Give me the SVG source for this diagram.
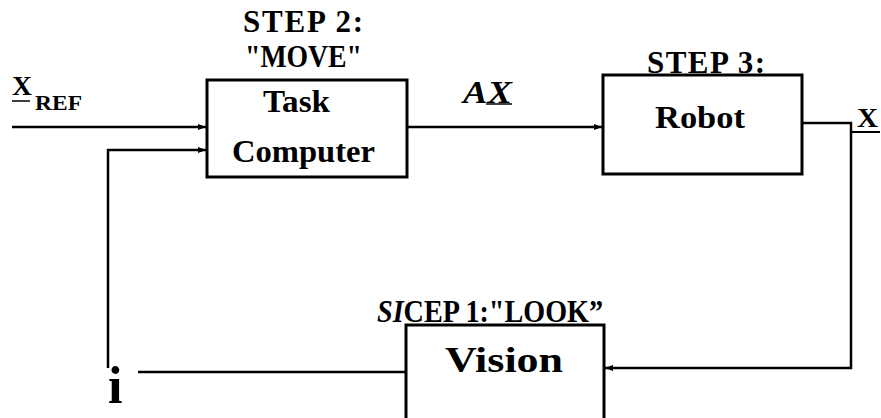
<svg xmlns="http://www.w3.org/2000/svg" width="881" height="418" viewBox="0 0 881 418">
<style>
.box{fill:#fff;stroke:#000;stroke-width:3}
.ln{fill:none;stroke:#000;stroke-width:2.5}
.t{font-family:"Times New Roman",Times,"Liberation Serif","DejaVu Serif",serif;font-weight:700;fill:#000}
</style>
<defs>
<marker id="ah" markerUnits="userSpaceOnUse" markerWidth="9" markerHeight="8" refX="8" refY="4" orient="auto">
<path d="M0,1 L8,4 L0,7 Z" fill="#000"/>
</marker>
</defs>
<g id="connectors">
<path class="ln" d="M12 127 H206" marker-end="url(#ah)"/>
<path class="ln" d="M108 368 V150 H206" marker-end="url(#ah)"/>
<path class="ln" d="M407 127 H602" marker-end="url(#ah)"/>
<path class="ln" d="M802 123 H851 V368 H605" marker-end="url(#ah)"/>
<path class="ln" d="M406 372 H138"/>
<line x1="12" y1="101" x2="30" y2="101" stroke="#000" stroke-width="1.5"/>
<line x1="852" y1="132" x2="880" y2="132" stroke="#000" stroke-width="2"/>
<line x1="486" y1="104" x2="512" y2="104" stroke="#000" stroke-width="1.5"/>
</g>
<g id="task-computer">
<rect class="box" x="207" y="80" width="200" height="97"/>
<text class="t" x="243" y="32" font-size="31" textLength="120" lengthAdjust="spacing">STEP 2:</text>
<text class="t" x="245" y="67" font-size="31" textLength="117" lengthAdjust="spacingAndGlyphs">"MOVE"</text>
<text class="t" x="263" y="112" font-size="32" textLength="67" lengthAdjust="spacingAndGlyphs">Task</text>
<text class="t" x="232" y="162" font-size="32" textLength="143" lengthAdjust="spacingAndGlyphs">Computer</text>
</g>
<g id="robot">
<rect class="box" x="603" y="75" width="199" height="99"/>
<text class="t" x="647" y="73" font-size="31" textLength="118" lengthAdjust="spacing">STEP 3:</text>
<text class="t" x="655" y="128" font-size="32" textLength="90" lengthAdjust="spacingAndGlyphs">Robot</text>
</g>
<g id="vision">
<rect class="box" x="406" y="325" width="198" height="95"/>
<text class="t" x="377" y="322" font-size="31" textLength="226" lengthAdjust="spacingAndGlyphs"><tspan font-style="italic">SI</tspan>CEP 1:"LOOK”</text>
<text class="t" x="445" y="372" font-size="36" textLength="118" lengthAdjust="spacingAndGlyphs">Vision</text>
</g>
<g id="labels">
<text class="t" x="12" y="95" font-size="28" textLength="20" lengthAdjust="spacingAndGlyphs">X</text>
<text class="t" x="35" y="110" font-size="22" textLength="47" lengthAdjust="spacingAndGlyphs">REF</text>
<text class="t" x="463" y="103" font-size="31" font-style="italic" textLength="49" lengthAdjust="spacingAndGlyphs">AX</text>
<text class="t" x="857" y="127" font-size="28" textLength="21" lengthAdjust="spacingAndGlyphs">X</text>
<text class="t" x="108" y="403" font-size="52">i</text>
</g>
</svg>
